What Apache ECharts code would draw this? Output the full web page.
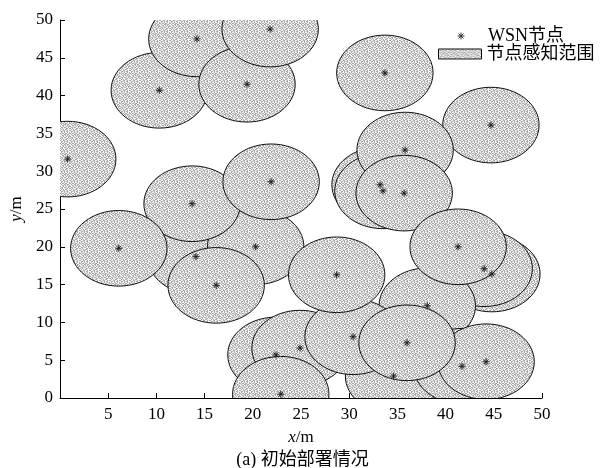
<!DOCTYPE html>
<html>
<head>
<meta charset="utf-8">
<script src="https://cdn.jsdelivr.net/npm/echarts@6/dist/echarts.min.js"></script>
<style>
  html, body { margin: 0; padding: 0; background: #fff; }
  #chart { width: 605px; height: 468px; }
</style>
</head>
<body>
<div id="chart"></div>
<script>
// Sensor node positions (m), listed in drawing order (back to front)
const nodeX = [0.8, 10.3, 14.2, 19.4, 21.8, 33.7, 44.7, 33.2, 33.5, 35.8, 35.7,
               14.1, 20.3, 13.7, 6.1, 21.9, 16.2, 44.8, 44.0, 38.1, 41.3,
               22.4, 24.9, 34.6, 41.7, 30.4, 28.7, 22.9, 44.2, 36.0];
const nodeY = [31.6, 40.7, 47.5, 41.5, 48.8, 43.0, 36.1, 28.2, 27.4, 32.8, 27.1,
               18.7, 20.0, 25.7, 19.8, 28.6, 14.9, 16.4, 17.1, 12.2, 20.0,
               5.7, 6.6, 2.9, 4.2, 8.1, 16.3, 0.5, 4.8, 7.3];
// Sensing radius (m)
const senseRadius = 5;
// Axis ticks
const axisMin = 0, axisMax = 50, axisStep = 5;

const FONT = '"Liberation Serif", "Times New Roman", "Noto Sans CJK SC", serif';

// Grey hatch texture used for the sensing areas
function makeTexture() {
  const rows = [
    '.WW..WW.W.',
    'W..W.W..WW',
    'W.WW.WW.W.',
    '.W..W..WW.',
    'W.WW..W..W',
    'WW..W.W.W.',
    '.WW.WW.W..',
    'W..W..WW.W',
    '.W.WWW..W.',
    'W.W.W..WWW'
  ];
  const c = document.createElement('canvas');
  c.width = rows[0].length; c.height = rows.length;
  const g = c.getContext('2d');
  g.fillStyle = '#a9a9a9';
  g.fillRect(0, 0, c.width, c.height);
  g.fillStyle = '#f4f4f4';
  rows.forEach((r, y) => {
    for (let x = 0; x < r.length; x++) {
      if (r[x] === 'W') g.fillRect(x, y, 1, 1);
    }
  });
  return c;
}
const texture = { image: makeTexture(), repeat: 'repeat' };

const starPath = 'path://M5,0L5,10M0,5L10,5M1.5,1.5L8.5,8.5M1.5,8.5L8.5,1.5';

const nodes = nodeX.map((x, i) => [x, nodeY[i]]);

const chart = echarts.init(document.getElementById('chart'), null, { renderer: 'canvas' });
chart.setOption({
  animation: false,
  backgroundColor: '#fff',
  textStyle: { fontFamily: FONT },
  title: {
    text: '(a) 初始部署情况',
    left: 'center',
    top: 446,
    textStyle: { fontFamily: FONT, fontSize: 18, fontWeight: 'normal', color: '#000' }
  },
  grid: { left: 60, right: 63, top: 20, bottom: 70 },
  legend: [
    {
      left: 455, top: 27, padding: 0, itemWidth: 44, itemHeight: 7, itemGap: 0,
      textStyle: { fontFamily: FONT, fontSize: 18, color: '#000' },
      data: [{ name: 'WSN节点', icon: starPath,
               itemStyle: { color: 'none', borderColor: '#333', borderWidth: 1 } }]
    },
    {
      left: 438, top: 45, padding: 0, itemWidth: 43, itemHeight: 10, itemGap: 0,
      textStyle: { fontFamily: FONT, fontSize: 18, color: '#000' },
      data: [{ name: '节点感知范围', icon: 'rect',
               itemStyle: { color: texture, borderColor: '#111', borderWidth: 1 } }]
    }
  ],
  xAxis: {
    type: 'value', min: axisMin, max: axisMax, interval: axisStep,
    name: '{i|x}/m', nameLocation: 'middle', nameGap: 31,
    nameTextStyle: {
      fontFamily: FONT, fontSize: 17, color: '#000',
      rich: { i: { fontFamily: FONT, fontSize: 17, fontStyle: 'italic', color: '#000' } }
    },
    axisLine: { lineStyle: { color: '#000', width: 1 } },
    axisTick: { inside: true, length: 5, lineStyle: { color: '#000' } },
    axisLabel: { showMinLabel: false, margin: 8, fontFamily: FONT, fontSize: 17, color: '#000' },
    splitLine: { show: false }
  },
  yAxis: {
    type: 'value', min: axisMin, max: axisMax, interval: axisStep,
    name: '{i|y}/m', nameLocation: 'middle', nameGap: 35, nameRotate: 90,
    nameTextStyle: {
      fontFamily: FONT, fontSize: 17, color: '#000',
      rich: { i: { fontFamily: FONT, fontSize: 17, fontStyle: 'italic', color: '#000' } }
    },
    axisLine: { show: true, lineStyle: { color: '#000', width: 1 } },
    axisTick: { show: true, inside: true, length: 5, lineStyle: { color: '#000' } },
    axisLabel: { margin: 7, fontFamily: FONT, fontSize: 17, color: '#000' },
    splitLine: { show: false }
  },
  series: [
    {
      name: '节点感知范围',
      type: 'custom',
      clip: true,
      itemStyle: { color: texture, borderColor: '#111' },
      data: nodes,
      renderItem: function (params, api) {
        const c = api.coord([api.value(0), api.value(1)]);
        const r = api.size([senseRadius, senseRadius]);
        return {
          type: 'ellipse',
          shape: { cx: c[0], cy: c[1], rx: r[0], ry: r[1] },
          style: { fill: texture, stroke: '#111', lineWidth: 1 }
        };
      }
    },
    {
      name: 'WSN节点',
      type: 'scatter',
      symbol: starPath,
      symbolSize: 7,
      itemStyle: { color: 'none', borderColor: '#222', borderWidth: 1, opacity: 1 },
      data: nodes,
      z: 5
    }
  ]
});
</script>
</body>
</html>
